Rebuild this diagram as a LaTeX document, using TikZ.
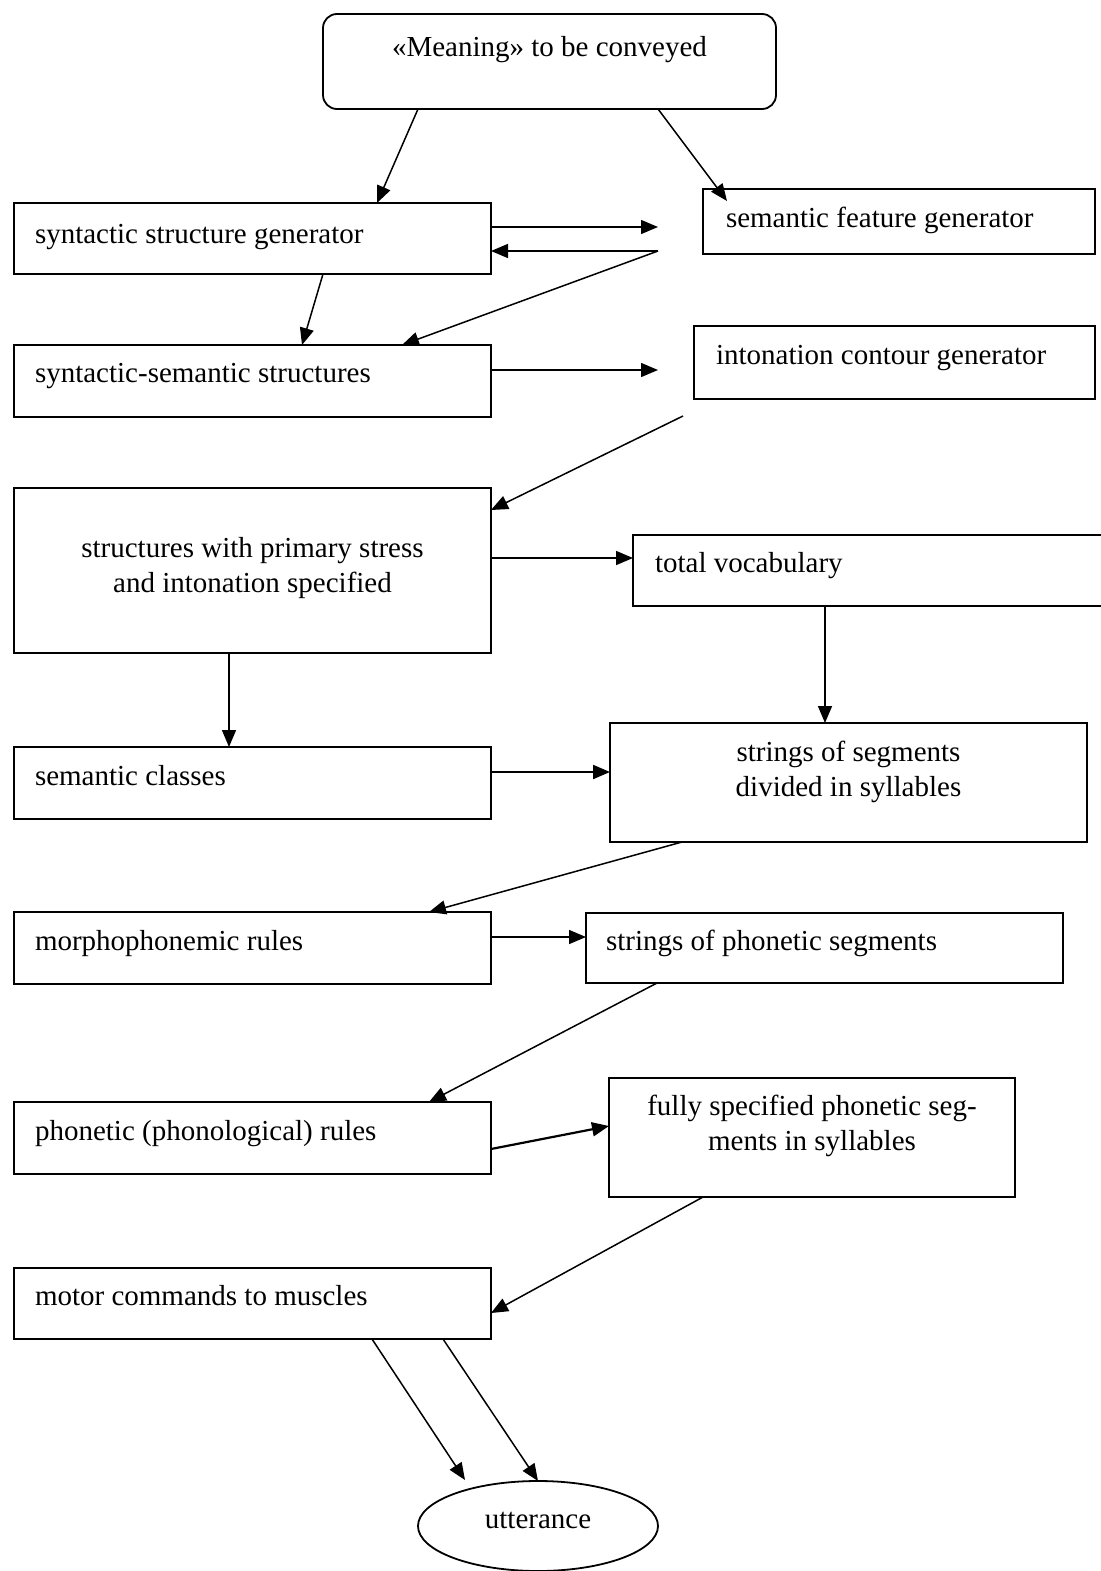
\documentclass[tikz,border=0pt]{standalone}
\usepackage{fontspec}
\setmainfont{Liberation Serif}
\usetikzlibrary{arrows.meta,calc,shapes.geometric}
\tikzset{
  box/.style={draw, line width=1.8pt, inner sep=0pt, outer sep=0pt, rectangle},
  txt/.style={inner sep=0pt, outer sep=0pt, font=\fontsize{29}{35}\selectfont},
  arr/.style={line width=1.5pt, -{Triangle[length=17pt,width=14pt]}},
  plain/.style={line width=1.5pt}
}
\begin{document}
\begin{tikzpicture}[x=1pt,y=-1pt]
\fill[white] (0,0) rectangle (1100,1571);
\useasboundingbox (0,0) rectangle (1100,1571);

% boxes
\node[box, rounded corners=14pt, minimum width=453pt, minimum height=95pt] (mean) at (549.5,61.5) {};
\node[box, minimum width=477pt, minimum height=71pt] (ssg) at (252.5,238.5) {};
\node[box, minimum width=392pt, minimum height=65pt] (sfg) at (899,221.5) {};
\node[box, minimum width=477pt, minimum height=72pt] (synsem) at (252.5,381) {};
\node[box, minimum width=401pt, minimum height=73pt] (inton) at (894.5,362.5) {};
\node[box, minimum width=477pt, minimum height=165pt] (struct) at (252.5,570.5) {};
\node[box, minimum width=480pt, minimum height=71pt] (vocab) at (873,570.5) {};
\node[box, minimum width=477pt, minimum height=72pt] (semcl) at (252.5,783) {};
\node[box, minimum width=477pt, minimum height=119pt] (strseg) at (848.5,782.5) {};
\node[box, minimum width=477pt, minimum height=72pt] (morpho) at (252.5,948) {};
\node[box, minimum width=477pt, minimum height=70pt] (strph) at (824.5,948) {};
\node[box, minimum width=477pt, minimum height=72pt] (phonr) at (252.5,1138) {};
\node[box, minimum width=406pt, minimum height=119pt] (fully) at (812,1137.5) {};
\node[box, minimum width=477pt, minimum height=71pt] (motor) at (252.5,1303.5) {};
\node[draw, line width=1.8pt, ellipse, inner sep=0pt, outer sep=0pt, minimum width=240pt, minimum height=90pt] (utter) at (538,1526) {};

% texts
\node[txt, anchor=base] (meant) at (549.5,56.5) {«Meaning» to be conveyed};
\node[txt, anchor=base west] (ssgt) at (35,243) {syntactic structure generator};
\node[txt, anchor=base west] (sfgt) at (726,227) {semantic feature generator};
\node[txt, anchor=base west] (synsemt) at (35,382) {syntactic-semantic structures};
\node[txt, anchor=base west] (intont) at (716,364) {intonation contour generator};
\node[txt, anchor=base] (structa) at (252.5,557) {structures with primary stress};
\node[txt, anchor=base] (structb) at (252.5,592) {and intonation specified};
\node[txt, anchor=base west] (vocabt) at (655,572) {total vocabulary};
\node[txt, anchor=base west] (semclt) at (35,785) {semantic classes};
\node[txt, anchor=base] (strsega) at (848.5,761) {strings of segments};
\node[txt, anchor=base] (strsegb) at (848.5,796) {divided in syllables};
\node[txt, anchor=base west] (morphot) at (35,950) {morphophonemic rules};
\node[txt, anchor=base west] (strpht) at (606,950) {strings of phonetic segments};
\node[txt, anchor=base west] (phonrt) at (35,1140) {phonetic (phonological) rules};
\node[txt, anchor=base] (fullya) at (812,1115) {fully specified phonetic seg-};
\node[txt, anchor=base] (fullyb) at (812,1150) {ments in syllables};
\node[txt, anchor=base west] (motort) at (35,1305) {motor commands to muscles};
\node[txt, anchor=base] (uttert) at (538,1528) {utterance};

% free ends
\coordinate (f1) at (658,227);
\coordinate (f2) at (658,251);
\coordinate (f3) at (658,370);
\coordinate (f4) at (683,416);
\coordinate (f5) at (465,1480);

% connectors
\draw[arr] ($(mean.south west)+(95,0)$) -- ($(ssg.north west)+(363,0)$);
\draw[arr] ($(mean.south west)+(335,0)$) -- ($(sfg.north west)+(24,12)$);
\draw[arr] ($(ssg.north east)+(0,24)$) -- (f1);
\draw[arr] (f2) -- ($(ssg.north east)+(0,48)$);
\draw[arr] (f2) -- ($(synsem.north west)+(388,0)$);
\draw[arr] ($(ssg.south west)+(309,0)$) -- ($(synsem.north west)+(288,0)$);
\draw[arr] ($(synsem.north east)+(0,25)$) -- (f3);
\draw[arr] (f4) -- ($(struct.north east)+(0,22)$);
\draw[arr] ($(struct.north east)+(0,70)$) -- ($(vocab.north west)+(0,23)$);
\draw[arr] ($(vocab.south west)+(192,0)$) -- ($(strseg.north west)+(215,0)$);
\draw[arr] ($(struct.south west)+(215,0)$) -- ($(semcl.north west)+(215,0)$);
\draw[arr, line width=2pt] ($(semcl.north east)+(0,25)$) -- ($(strseg.north west)+(0,49)$);
\draw[arr] ($(strseg.south west)+(72,0)$) -- ($(morpho.north west)+(415,0)$);
\draw[arr] ($(morpho.north east)+(0,25)$) -- ($(strph.north west)+(0,24)$);
\draw[arr] ($(strph.south west)+(71,0)$) -- ($(phonr.north west)+(415,0)$);
\draw[arr, line width=2.2pt] ($(phonr.north east)+(0,47)$) -- ($(fully.north west)+(0,48)$);
\draw[arr] ($(fully.south west)+(94,0)$) -- ($(motor.north east)+(0,45)$);
\draw[arr] ($(motor.south west)+(358,0)$) -- (f5);
\draw[arr] ($(motor.south west)+(429,0)$) -- (utter.north);
\end{tikzpicture}
\end{document}
